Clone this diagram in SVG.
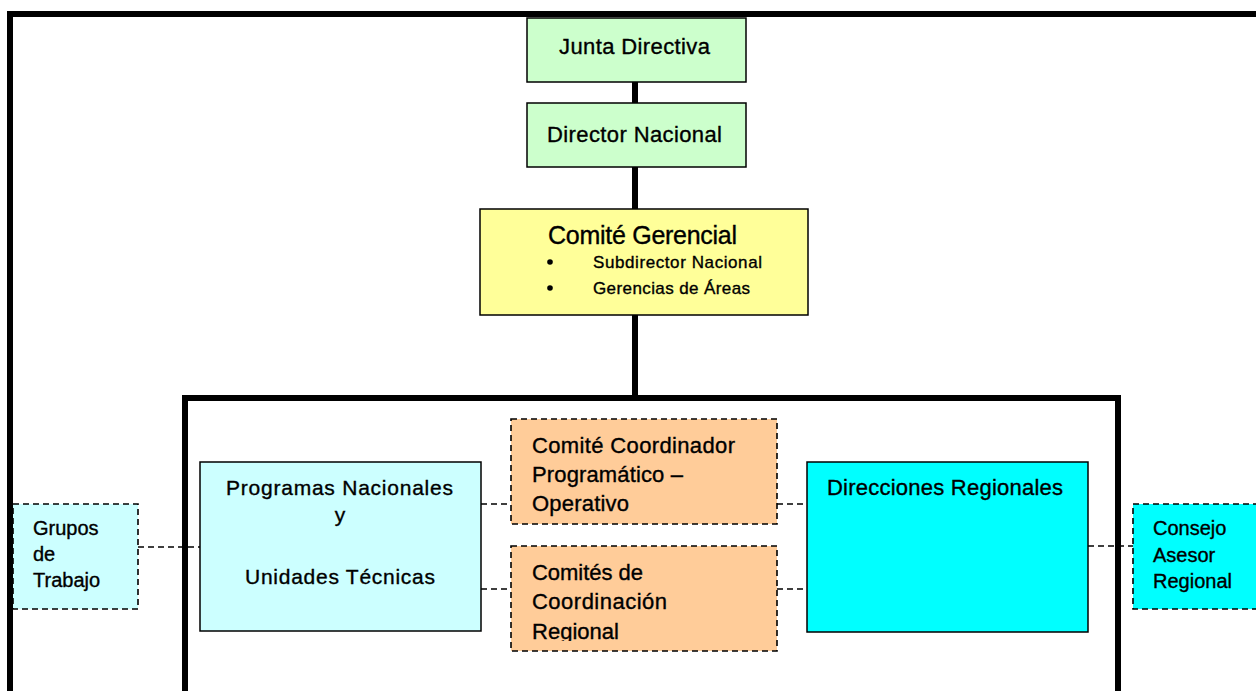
<svg xmlns="http://www.w3.org/2000/svg" width="1256" height="691" viewBox="0 0 1256 691">
<style>
text{font-family:"Liberation Sans",Arial,sans-serif;fill:#000;stroke:#000;stroke-width:0.35}
.solid{stroke:#000;stroke-width:1.5}
.dash{stroke:#000;stroke-width:1.6;stroke-dasharray:6,4}
.frame{fill:none;stroke:#000;stroke-width:6}
.trunk{stroke:#000;stroke-width:6}
.green{fill:#ccffcc}.yellow{fill:#ffff99}.lcyan{fill:#ccffff}.orange{fill:#ffcc99}.cyan{fill:#00ffff}
</style>
<defs>
<clipPath id="clipCR"><rect x="511" y="546" width="266" height="95"/></clipPath>
</defs>
<rect width="1256" height="691" fill="#fff"/>
<g id="frames">
<rect class="frame" x="10" y="14" width="1300" height="800"/>
<rect class="frame" x="185" y="398" width="933" height="400"/>
</g>
<g id="connectors">
<line class="trunk" x1="635" y1="82" x2="635" y2="103"/>
<line class="trunk" x1="635" y1="167" x2="635" y2="209"/>
<line class="trunk" x1="635" y1="315" x2="635" y2="398"/>
<line class="dash" x1="138" y1="547" x2="200" y2="547"/>
<line class="dash" x1="481" y1="504" x2="511" y2="504"/>
<line class="dash" x1="481" y1="589" x2="511" y2="589"/>
<line class="dash" x1="777" y1="504" x2="807" y2="504"/>
<line class="dash" x1="777" y1="589" x2="807" y2="589"/>
<line class="dash" x1="1088" y1="546" x2="1133" y2="546"/>
</g>
<g id="junta">
<rect class="solid green" x="527" y="18" width="219" height="64"/>
<text x="559" y="54" font-size="22" textLength="151">Junta Directiva</text>
</g>
<g id="director">
<rect class="solid green" x="527" y="103" width="219" height="64"/>
<text x="547" y="142" font-size="22" textLength="175">Director Nacional</text>
</g>
<g id="comite-gerencial">
<rect class="solid yellow" x="480" y="209" width="328" height="106"/>
<text x="548" y="244" font-size="25" textLength="189">Comité Gerencial</text>
<circle cx="550" cy="262" r="2.8"/>
<text x="593" y="268" font-size="17" textLength="169">Subdirector Nacional</text>
<circle cx="550" cy="288" r="2.8"/>
<text x="593" y="294" font-size="17" textLength="157">Gerencias de Áreas</text>
</g>
<g id="programas">
<rect class="solid lcyan" x="200" y="462" width="281" height="169"/>
<text x="226" y="495" font-size="21" textLength="227">Programas Nacionales</text>
<text x="340" y="522" font-size="21" text-anchor="middle">y</text>
<text x="245" y="584" font-size="21" textLength="190">Unidades Técnicas</text>
</g>
<g id="grupos">
<rect class="dash lcyan" x="13" y="504" width="125" height="105"/>
<text font-size="20"><tspan x="33" y="535">Grupos</tspan><tspan x="33" y="561">de</tspan><tspan x="33" y="587">Trabajo</tspan></text>
</g>
<g id="comite-coordinador">
<rect class="dash orange" x="511" y="419" width="266" height="105"/>
<text font-size="22"><tspan x="532" y="453" textLength="203">Comité Coordinador</tspan><tspan x="532" y="482" textLength="151">Programático –</tspan><tspan x="532" y="511" textLength="97">Operativo</tspan></text>
</g>
<g id="comites-coordinacion">
<rect class="dash orange" x="511" y="546" width="266" height="105"/>
<text font-size="22" clip-path="url(#clipCR)"><tspan x="532" y="580" textLength="111">Comités de</tspan><tspan x="532" y="609" textLength="135">Coordinación</tspan><tspan x="532" y="639" textLength="87">Regional</tspan></text>
</g>
<g id="direcciones">
<rect class="solid cyan" x="807" y="462" width="281" height="170"/>
<text x="827" y="495" font-size="22" textLength="236">Direcciones Regionales</text>
</g>
<g id="consejo">
<rect class="dash cyan" x="1133" y="504" width="130" height="105"/>
<text font-size="20"><tspan x="1153" y="535">Consejo</tspan><tspan x="1153" y="562">Asesor</tspan><tspan x="1153" y="588">Regional</tspan></text>
</g>
</svg>
